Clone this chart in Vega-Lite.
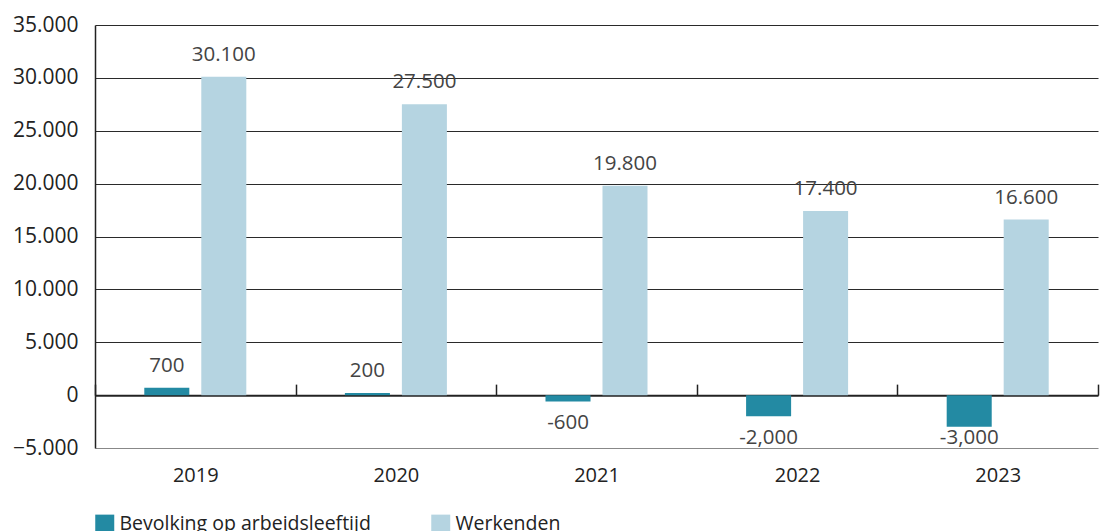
{
  "$schema": "https://vega.github.io/schema/vega-lite/v6.json",
  "width": 1003,
  "height": 423,
  "autosize": "none",
  "padding": {"left": 95, "top": 25, "right": 4, "bottom": 83},
  "config": {
    "font": "Open Sans",
    "view": {"stroke": null},
    "axis": {"labelFont": "Open Sans", "labelFontSize": 20, "labelColor": "#222"}
  },
  "data": {
    "values": [
      {"year": "2019", "series": "Bevolking op arbeidsleeftijd", "value": 700, "label": "700"},
      {"year": "2019", "series": "Werkenden", "value": 30100, "label": "30.100"},
      {"year": "2020", "series": "Bevolking op arbeidsleeftijd", "value": 200, "label": "200"},
      {"year": "2020", "series": "Werkenden", "value": 27500, "label": "27.500"},
      {"year": "2021", "series": "Bevolking op arbeidsleeftijd", "value": -600, "label": "-600"},
      {"year": "2021", "series": "Werkenden", "value": 19800, "label": "19.800"},
      {"year": "2022", "series": "Bevolking op arbeidsleeftijd", "value": -2000, "label": "-2,000"},
      {"year": "2022", "series": "Werkenden", "value": 17400, "label": "17.400"},
      {"year": "2023", "series": "Bevolking op arbeidsleeftijd", "value": -3000, "label": "-3,000"},
      {"year": "2023", "series": "Werkenden", "value": 16600, "label": "16.600"}
    ]
  },
  "encoding": {
    "x": {
      "field": "year", "type": "nominal",
      "scale": {"paddingInner": 0, "paddingOuter": 0},
      "axis": {
        "title": null, "orient": "bottom", "offset": -52.875,
        "domainColor": "#222", "domainWidth": 2,
        "tickBand": "extent", "tickSize": -11, "tickColor": "#222", "tickWidth": 1.5,
        "labelPadding": 81, "labelAngle": 0, "labelFontSize": 20, "grid": false
      }
    },
    "xOffset": {
      "field": "series", "type": "nominal",
      "sort": ["Bevolking op arbeidsleeftijd", "Werkenden"],
      "scale": {"paddingInner": 0.21, "paddingOuter": 0.865}
    }
  },
  "layer": [
    {
      "mark": {"type": "bar"},
      "encoding": {
        "y": {
          "field": "value", "type": "quantitative",
          "scale": {"domain": [-5000, 35000], "nice": false, "zero": false},
          "axis": {
            "title": null,
            "values": [-5000, 0, 5000, 10000, 15000, 20000, 25000, 30000, 35000],
            "format": ",d",
            "labelExpr": "replace(datum.label, ',', '.')",
            "ticks": false, "domain": true, "domainColor": "#222", "domainWidth": 1.5,
            "grid": true,
            "gridColor": {"condition": {"test": "datum.value === -5000", "value": "#888"}, "value": "#2a2a2a"},
            "gridWidth": 1.2,
            "labelPadding": 17, "labelFontSize": 21
          }
        },
        "color": {
          "field": "series", "type": "nominal",
          "sort": ["Bevolking op arbeidsleeftijd", "Werkenden"],
          "scale": {"range": ["#238aa3", "#b5d4e1"]},
          "legend": {
            "title": null, "orient": "none", "legendX": 0, "legendY": 489,
            "direction": "horizontal", "symbolType": "square", "symbolSize": 361,
            "symbolStrokeWidth": 0, "symbolOpacity": 1,
            "labelFontSize": 19.5, "labelColor": "#222", "labelFont": "Open Sans",
            "labelLimit": 500, "columnPadding": 60, "labelOffset": 5
          }
        }
      }
    },
    {
      "transform": [{"filter": "datum.value >= 0"}],
      "mark": {"type": "text", "baseline": "alphabetic", "dy": -16, "fontSize": 20.5, "color": "#444"},
      "encoding": {
        "y": {"field": "value", "type": "quantitative", "axis": {"title": null}},
        "text": {"field": "label"}
      }
    },
    {
      "transform": [{"filter": "datum.value < 0"}, {"calculate": "max(datum.value, -2000)", "as": "ly"}],
      "mark": {"type": "text", "baseline": "alphabetic", "dy": 28, "fontSize": 20.5, "color": "#444"},
      "encoding": {
        "y": {"field": "ly", "type": "quantitative", "axis": {"title": null}},
        "text": {"field": "label"}
      }
    }
  ]
}
